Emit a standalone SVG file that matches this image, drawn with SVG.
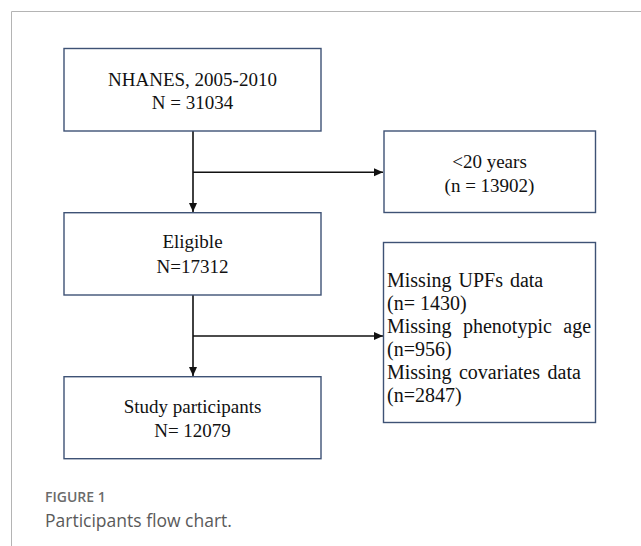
<svg xmlns="http://www.w3.org/2000/svg" width="641" height="546" viewBox="0 0 641 546">
  <style>
    .box { fill: #ffffff; stroke: #3e5275; stroke-width: 1.4; }
    .t { font-family: "Liberation Serif", "Times New Roman", serif; font-size: 19px; fill: #111111; text-anchor: middle; }
    .tl { font-family: "Liberation Serif", "Times New Roman", serif; font-size: 20px; fill: #111111; }
    .conn { stroke: #111111; stroke-width: 1.6; fill: none; }
    .frame { stroke: #b4b4b4; stroke-width: 1; fill: none; }
    .cap1 { font-family: "Open Sans", "Noto Sans", sans-serif; font-size: 14px; font-weight: 600; fill: #6b6b6b; }
    .cap2 { font-family: "Open Sans", "Noto Sans", sans-serif; font-size: 17.5px; fill: #5a5a5a; }
  </style>
  <defs>
    <marker id="arrow" markerUnits="userSpaceOnUse" markerWidth="10" markerHeight="9" refX="9" refY="4" orient="auto">
      <path d="M0,0 L9,4 L0,8 z" fill="#111111"/>
    </marker>
  </defs>
  <rect width="641" height="546" fill="#ffffff"/>
  <path class="frame" d="M641,11.5 H11.5 V546"/>

  <g id="connectors">
    <line class="conn" x1="193" y1="131" x2="193" y2="212" marker-end="url(#arrow)"/>
    <line class="conn" x1="193" y1="172.3" x2="383" y2="172.3" marker-end="url(#arrow)"/>
    <line class="conn" x1="193" y1="295" x2="193" y2="376" marker-end="url(#arrow)"/>
    <line class="conn" x1="193" y1="336" x2="383" y2="336" marker-end="url(#arrow)"/>
  </g>

  <g id="node-nhanes">
    <rect class="box" x="64" y="48.5" width="257" height="82.5"/>
    <text class="t" x="192.5" y="85.7">NHANES, 2005-2010</text>
    <text class="t" x="192.5" y="109">N = 31034</text>
  </g>

  <g id="node-under20">
    <rect class="box" x="384" y="131" width="211.5" height="81.5"/>
    <text class="t" x="489.5" y="168.3">&lt;20 years</text>
    <text class="t" x="489.5" y="191.7">(n = 13902)</text>
  </g>

  <g id="node-eligible">
    <rect class="box" x="64" y="212.7" width="257" height="82.3"/>
    <text class="t" x="192.5" y="248.3">Eligible</text>
    <text class="t" x="192.5" y="272.7">N=17312</text>
  </g>

  <g id="node-missing">
    <rect class="box" x="383.5" y="242.5" width="212" height="180"/>
    <text class="tl" x="387" y="287" word-spacing="2">Missing UPFs data</text>
    <text class="tl" x="387" y="310">(n= 1430)</text>
    <text class="tl" x="387" y="333" word-spacing="6.5">Missing phenotypic age</text>
    <text class="tl" x="387" y="356">(n=956)</text>
    <text class="tl" x="387" y="379" word-spacing="2.5">Missing covariates data</text>
    <text class="tl" x="387" y="402">(n=2847)</text>
  </g>

  <g id="node-study">
    <rect class="box" x="64" y="376.7" width="257" height="82"/>
    <text class="t" x="192.5" y="413.3">Study participants</text>
    <text class="t" x="192.5" y="437.3">N= 12079</text>
  </g>

  <g id="caption">
    <text class="cap1" x="45" y="502">FIGURE 1</text>
    <text class="cap2" x="45" y="527">Participants flow chart.</text>
  </g>
</svg>
